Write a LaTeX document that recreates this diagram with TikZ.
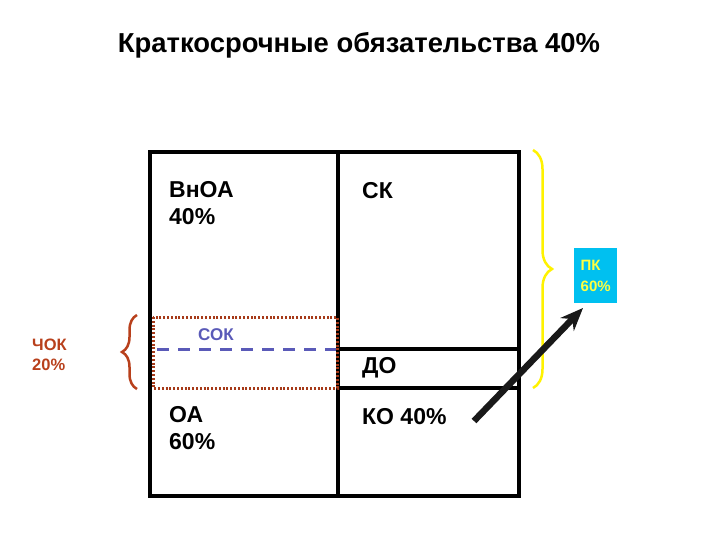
\documentclass[tikz,border=0pt]{standalone}
\usepackage{fontspec}
\setmainfont{Liberation Sans}
\usetikzlibrary{arrows.meta,positioning,decorations.pathreplacing}
\definecolor{pkcyan}{HTML}{00C0F0}
\definecolor{pkyellow}{HTML}{FFFF40}
\definecolor{braceyellow}{HTML}{FFF200}
\definecolor{rust}{HTML}{B8401C}
\definecolor{sokblue}{HTML}{5A5AB8}
\tikzset{
  >={Stealth[length=8mm,width=6.5mm]},
  % ramka balansa
  frame/.style={draw=black,line width=4pt},
  lbl/.style={anchor=base west,inner sep=0pt,align=left,
              font=\bfseries\fontsize{23}{27}\selectfont},
  ttl/.style={anchor=base,inner sep=0pt,font=\bfseries\fontsize{27.4}{30}\selectfont},
  % soc i chok
  sokbox/.style={draw=rust!90!black,line width=3pt,dash pattern=on 2pt off 1.8pt},
  sokline/.style={draw=sokblue,line width=3pt,dash pattern=on 12pt off 9pt},
  soklbl/.style={anchor=base west,inner sep=0pt,text=sokblue,
                 font=\bfseries\fontsize{17}{20}\selectfont},
  choklbl/.style={anchor=north west,inner sep=0pt,align=left,text=rust,
                  font=\bfseries\fontsize{16.5}{20}\selectfont},
  pkbox/.style={fill=pkcyan,text=pkyellow,align=left,inner sep=0pt,
                minimum width=43pt,minimum height=55pt,
                font=\bfseries\fontsize{15}{21}\selectfont},
  brc/.style={decorate,decoration={brace,amplitude=#1}},
  arr/.style={->,draw=black!90,line width=6.5pt},
}
\begin{document}
\begin{tikzpicture}[x=1pt,y=-1pt]
  \useasboundingbox (0,0) rectangle (720,540);
  \node[ttl] (title) at (359,53) {Краткосрочные обязательства 40\%};
  % balans
  \draw[frame] (150,152) rectangle (519,496);
  \draw[frame] (338,152) -- (338,496);
  \draw[frame] (338,349) -- (519,349);
  \draw[frame] (338,388) -- (519,388);
  \draw[sokbox] (153,317) rectangle (337,388);
  \draw[sokline] (157,349) -- (336,349);
  \node[lbl,anchor=north west] (vnoa) at (169,181) {ВнОА\\40\%};
  \node[lbl] (sk) at (362,199) {СК};
  \node[lbl] (do) at (362,373) {ДО};
  \node[lbl,anchor=north west] (oa) at (169,406) {ОА\\60\%};
  \node[lbl] (ko) at (362,424) {КО 40\%};
  \node[soklbl] (sok) at (198,340) {СОК};
  % skobki
  \node[choklbl] (chok) at (32,339) {ЧОК\\20\%};
  \draw[brc=15pt,draw=rust,line width=2.5pt] (137,389) -- (137,315);
  \draw[brc=19pt,draw=braceyellow,line width=2.5pt] (533,150) -- (533,388);
  \node[pkbox,anchor=north west] (pk) at (574,248) {ПК\\60\%};
  \coordinate (kotail) at (474,421);
  \coordinate (pktip) at (583,308);
  \draw[arr] (kotail) -- (pktip);
\end{tikzpicture}
\end{document}
